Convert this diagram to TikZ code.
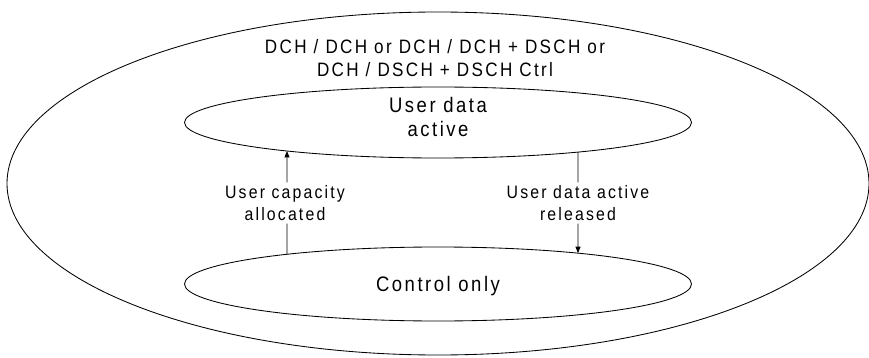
\documentclass[tikz,border=0pt]{standalone}
\usepackage{fontspec}
\setmainfont{Liberation Sans}[FakeStretch=0.88,LetterSpace=12]
\usetikzlibrary{arrows.meta,shapes.geometric,intersections}
\begin{document}
\begin{tikzpicture}[x=1pt,y=-1pt,
  every node/.style={inner sep=0pt,outer sep=0pt},
  oval/.style={draw,ellipse,line width=0.85pt},
  lbl/.style={align=center,inner sep=3pt},
  conn/.style={line width=0.85pt},
  arr/.style={conn,-{Triangle[length=6.5pt,width=5pt]}}]
\useasboundingbox (0,0) rectangle (869,358);
\node[oval,minimum width=862pt,minimum height=343pt] (outer) at (438,183.5) {};
\node[oval,name path=uap,minimum width=507pt,minimum height=71pt] (ua) at (438,122.5) {};
\node[oval,name path=cop,minimum width=507pt,minimum height=74pt] (co) at (438,284) {};
\node[lbl,font=\fontsize{19.4}{23}\selectfont] (chan) at (435,58) {DCH / DCH or DCH / DCH + DSCH or\\DCH / DSCH + DSCH Ctrl};
\node[lbl,font=\fontsize{21}{24}\selectfont] (uat) at (438,117) {User data\\active};
\node[lbl,font=\fontsize{21}{24}\selectfont] (cot) at (438,286) {Control only};
\node[lbl,font=\fontsize{18}{22}\selectfont] (cap) at (285,203) {User capacity\\allocated};
\node[lbl,font=\fontsize{18}{22}\selectfont] (rel) at (578,203) {User data active\\released};
\coordinate (lx) at (287,0);
\coordinate (rx) at (578,0);
\path[name path=lv] (lx) -- (lx |- co.south);
\path[name path=rv] (rx) -- (rx |- co.south);
\path[name intersections={of=lv and uap,by={la1,la2}}];
\path[name intersections={of=lv and cop,by={lb1,lb2}}];
\path[name intersections={of=rv and uap,by={ra1,ra2}}];
\path[name intersections={of=rv and cop,by={rb1,rb2}}];
\draw[arr] (lx |- cap.north) -- (la2);
\draw[conn] (lb1) -- (lx |- cap.south);
\draw[conn] (ra2) -- (rx |- rel.north);
\draw[arr] (rx |- rel.south) -- (rb1);
\end{tikzpicture}
\end{document}
